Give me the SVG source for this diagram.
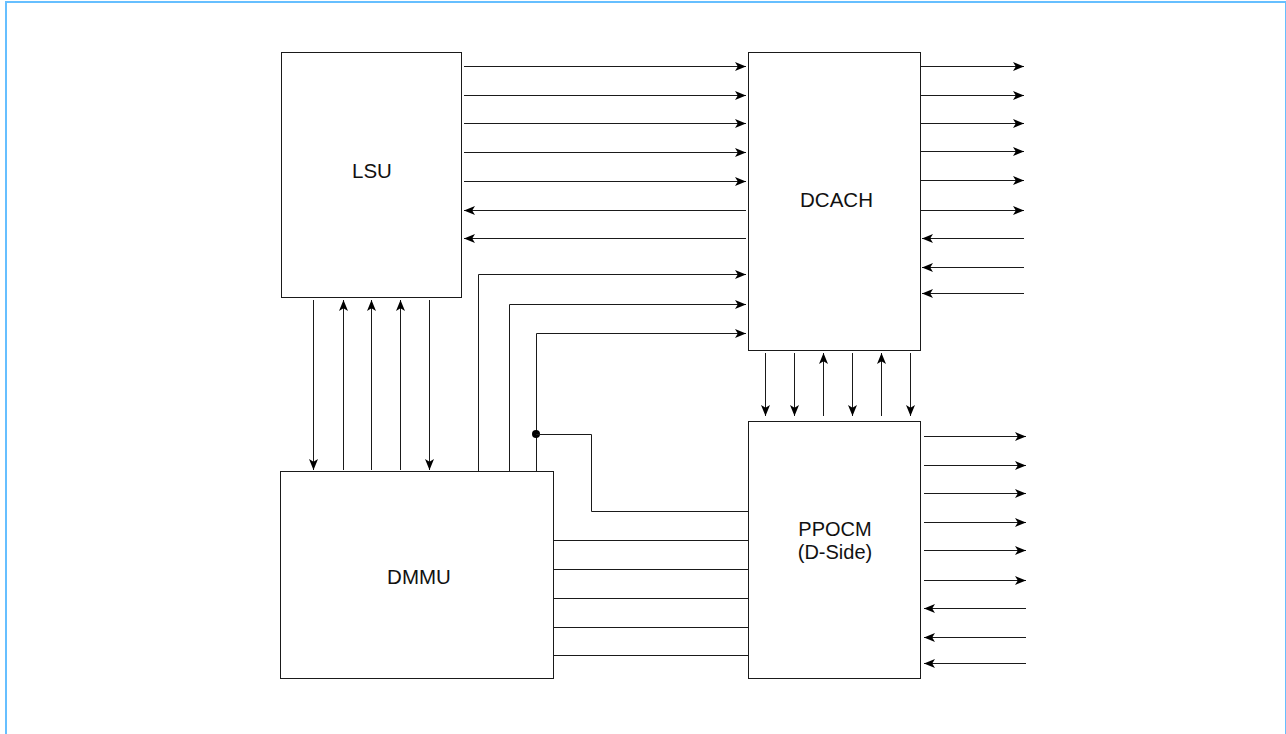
<svg xmlns="http://www.w3.org/2000/svg" width="1286" height="734" viewBox="0 0 1286 734">
<style>
.box{fill:#fff;stroke:#1a1a1a;stroke-width:1}
.lbl{font-family:"Liberation Sans",Arial,sans-serif;font-size:20.5px;fill:#111;text-anchor:middle}
.lbl2{font-family:"Liberation Sans",Arial,sans-serif;font-size:20px;fill:#111;text-anchor:middle}
.w{fill:none;stroke:#1a1a1a;stroke-width:1}
.a{fill:none;stroke:#1a1a1a;stroke-width:1;marker-end:url(#arr)}
</style>
<defs>
<marker id="arr" markerUnits="userSpaceOnUse" markerWidth="12" markerHeight="10" refX="11" refY="5" orient="auto" viewBox="0 0 12 10">
<path d="M0,0.5 L11,5 L0,9.5 L2.8,5 Z" fill="#000"/>
</marker>
</defs>
<rect x="6" y="2" width="1280" height="740" fill="#fff" stroke="#66bfff" stroke-width="2"/>
<g id="connectors">
<path class="a" d="M464,66.5 H746"/>
<path class="a" d="M464,95.5 H746"/>
<path class="a" d="M464,123.5 H746"/>
<path class="a" d="M464,152.5 H746"/>
<path class="a" d="M464,181.5 H746"/>
<path class="a" d="M746,210.5 H464"/>
<path class="a" d="M746,238.5 H464"/>
<path class="a" d="M478.5,471 V274.5 H746"/>
<path class="a" d="M509.5,471 V304.5 H746"/>
<path class="a" d="M536.5,471 V333.5 H746"/>
<path class="a" d="M313.5,300 V470"/>
<path class="a" d="M343.5,470 V300"/>
<path class="a" d="M371.5,470 V300"/>
<path class="a" d="M400.5,470 V300"/>
<path class="a" d="M429.5,300 V470"/>
<circle cx="536" cy="434" r="4" fill="#000"/>
<path class="w" d="M536,434.5 H591.5 V511.5 H748"/>
<path class="w" d="M554,540.5 H748"/>
<path class="w" d="M554,569.5 H748"/>
<path class="w" d="M554,598.5 H748"/>
<path class="w" d="M554,627.5 H748"/>
<path class="w" d="M554,655.5 H748"/>
<path class="a" d="M921,66.5 H1024"/>
<path class="a" d="M921,95.5 H1024"/>
<path class="a" d="M921,123.5 H1024"/>
<path class="a" d="M921,151.5 H1024"/>
<path class="a" d="M921,180.5 H1024"/>
<path class="a" d="M921,210.5 H1024"/>
<path class="a" d="M1024,238.5 H922"/>
<path class="a" d="M1024,267.5 H922"/>
<path class="a" d="M1024,293.5 H922"/>
<path class="a" d="M765.5,353 V416"/>
<path class="a" d="M794.5,353 V416"/>
<path class="a" d="M823.5,416 V353"/>
<path class="a" d="M852.5,353 V416"/>
<path class="a" d="M881.5,416 V353"/>
<path class="a" d="M910.5,353 V416"/>
<path class="a" d="M924,436.5 H1026"/>
<path class="a" d="M924,465.5 H1026"/>
<path class="a" d="M924,493.5 H1026"/>
<path class="a" d="M924,522.5 H1026"/>
<path class="a" d="M924,550.5 H1026"/>
<path class="a" d="M924,580.5 H1026"/>
<path class="a" d="M1026,608.5 H924"/>
<path class="a" d="M1026,637.5 H924"/>
<path class="a" d="M1026,663.5 H924"/>
</g>
<g id="lsu">
<rect class="box" x="281.5" y="52.5" width="180" height="245"/>
<text class="lbl" x="372" y="177.5">LSU</text>
</g>
<g id="dcach">
<rect class="box" x="748.5" y="52.5" width="172" height="298"/>
<text class="lbl" x="836.5" y="207">DCACH</text>
</g>
<g id="dmmu">
<rect class="box" x="280.5" y="471.5" width="273" height="207"/>
<text class="lbl" x="419" y="583.5">DMMU</text>
</g>
<g id="ppocm">
<rect class="box" x="748.5" y="421.5" width="172" height="257"/>
<text class="lbl2" x="835" y="536">PPOCM</text>
<text class="lbl2" x="835" y="559">(D-Side)</text>
</g>
</svg>
